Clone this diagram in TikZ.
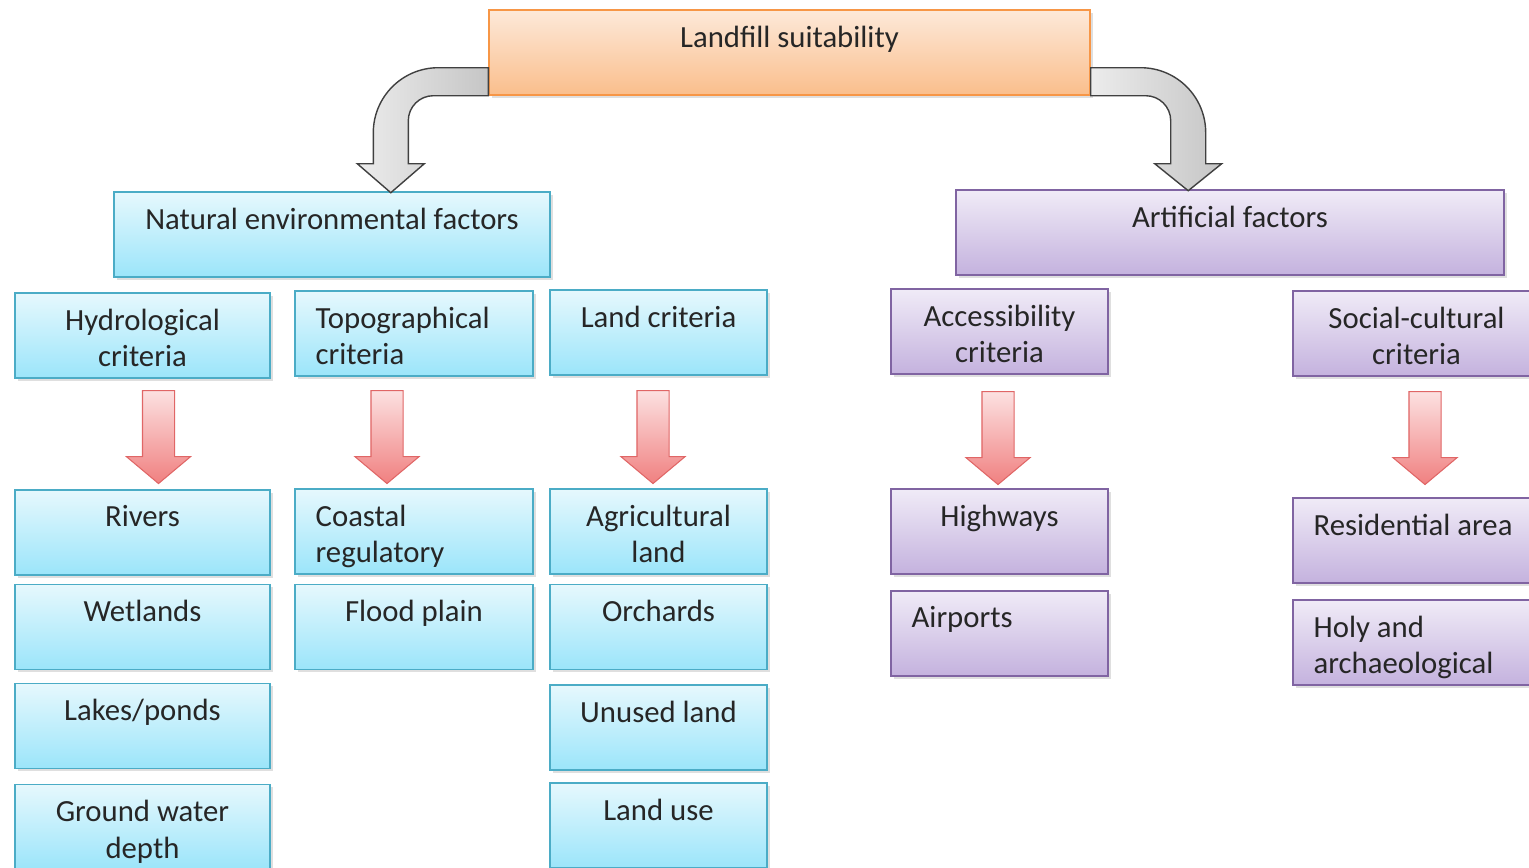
\documentclass[tikz,border=0pt]{standalone}
\usepackage{fontspec}
\setmainfont{Carlito}
\usetikzlibrary{shapes,arrows,positioning,calc,shadows}
\definecolor{boxtext}{RGB}{38,38,38}
\definecolor{suitorange}{RGB}{247,150,70}
\definecolor{suittop}{RGB}{253,233,217}
\definecolor{suitbottom}{RGB}{250,190,140}
\definecolor{natblue}{RGB}{75,172,198}
\definecolor{nattop}{RGB}{230,248,253}
\definecolor{natbottom}{RGB}{155,229,250}
\definecolor{artpurple}{RGB}{128,100,162}
\definecolor{arttop}{RGB}{240,235,247}
\definecolor{artbottom}{RGB}{196,178,222}
\definecolor{flowred}{RGB}{224,102,102}
\definecolor{flowtop}{RGB}{252,225,225}
\definecolor{flowbottom}{RGB}{240,128,128}
\definecolor{bendgray}{RGB}{64,64,64}

\tikzset{
  factorbox/.style={draw, rectangle, line width=0.8pt, minimum height=1.7cm, inner sep=0pt,
    drop shadow={shadow xshift=0.05cm, shadow yshift=-0.05cm, opacity=0.25}},
  natbox/.style={factorbox, draw=natblue, top color=nattop, bottom color=natbottom},
  artbox/.style={factorbox, draw=artpurple, top color=arttop, bottom color=artbottom},
  boxlabel/.style={anchor=north, inner sep=0pt, yshift=-0.32cm, align=center, text=boxtext},
  leftlabel/.style={anchor=north west, inner sep=0pt, xshift=0.42cm, yshift=-0.32cm, align=left, text=boxtext},
  downarrow/.style={single arrow, draw=flowred, line width=0.6pt, rotate=-90, anchor=tail, minimum height=1.86cm,
    inner xsep=0pt, inner ysep=0.31cm, single arrow head extend=0.32cm, single arrow tip angle=100,
    top color=flowtop, bottom color=flowbottom},
  bendarrow/.style={draw=bendgray, line width=0.8pt, left color=gray!15, right color=gray!45}
}

\begin{document}
\begin{tikzpicture}[font=\fontsize{17.5}{21}\selectfont]
    \useasboundingbox (0,0) rectangle (30.58,-17.34);

    \node[factorbox, draw=suitorange, top color=suittop, bottom color=suitbottom, minimum width=12.02cm,
      label={[boxlabel]north:Landfill suitability}] (suit) at (15.79,-1.05) {};

    \node[natbox, minimum width=8.72cm, label={[boxlabel]north:Natural environmental factors}] (natural) at (6.64,-4.69) {};
    \node[artbox, minimum width=10.96cm, label={[boxlabel]north:Artificial factors}] (artificial) at (24.60,-4.65) {};

    \begin{scope}[shift={(suit.south west)}]
      \draw[bendarrow] (0,0.56) -- (-1.0,0.56) arc[start angle=90, end angle=180, radius=1.3]
        -- (-2.30,-1.36) -- (-2.62,-1.36) -- (-1.95,-1.94) -- (-1.28,-1.36) -- (-1.60,-1.36)
        -- (-1.60,-0.5) arc[start angle=180, end angle=90, radius=0.5] -- (0,0) -- cycle;
    \end{scope}
    \begin{scope}[shift={(suit.south east)}, xscale=-1]
      \draw[bendarrow] (0,0.56) -- (-1.0,0.56) arc[start angle=90, end angle=180, radius=1.3]
        -- (-2.30,-1.36) -- (-2.62,-1.36) -- (-1.95,-1.90) -- (-1.28,-1.36) -- (-1.60,-1.36)
        -- (-1.60,-0.5) arc[start angle=180, end angle=90, radius=0.5] -- (0,0) -- cycle;
    \end{scope}

    \node[natbox, minimum width=5.10cm, label={[boxlabel]north:Hydrological\\criteria}] (hydro) at (2.85,-6.71) {};
    \node[natbox, minimum width=4.76cm, label={[leftlabel]north west:Topographical\\criteria}] (topo) at (8.28,-6.67) {};
    \node[natbox, minimum width=4.34cm, label={[boxlabel]north:Land criteria}] (landcrit) at (13.17,-6.65) {};
    \node[artbox, minimum width=4.34cm, label={[boxlabel]north:Accessibility\\criteria}] (access) at (19.99,-6.63) {};
    \node[artbox, minimum width=4.94cm, label={[boxlabel]north:Social-cultural\\criteria}] (social) at (28.33,-6.67) {};

    \node[downarrow] (hydroarrow) at (3.17,-7.80) {};
    \node[downarrow] (topoarrow) at (7.74,-7.80) {};
    \node[downarrow] (landarrow) at (13.06,-7.80) {};
    \node[downarrow] (accessarrow) at (19.96,-7.82) {};
    \node[downarrow] (socialarrow) at (28.50,-7.82) {};

    \node[natbox, minimum width=5.10cm, label={[boxlabel]north:Rivers}] (rivers) at (2.85,-10.65) {};
    \node[natbox, minimum width=5.10cm, label={[boxlabel]north:Wetlands}] (wetlands) at (2.85,-12.54) {};
    \node[natbox, minimum width=5.10cm, label={[boxlabel]north:Lakes/ponds}] (lakes) at (2.85,-14.52) {};
    \node[natbox, minimum width=5.10cm, label={[boxlabel]north:Ground water\\depth}] (groundwater) at (2.85,-16.54) {};

    \node[natbox, minimum width=4.76cm, label={[leftlabel]north west:Coastal\\regulatory}] (coastal) at (8.28,-10.63) {};
    \node[natbox, minimum width=4.76cm, label={[boxlabel]north:Flood plain}] (flood) at (8.28,-12.54) {};

    \node[natbox, minimum width=4.34cm, label={[boxlabel]north:Agricultural\\land}] (agri) at (13.17,-10.63) {};
    \node[natbox, minimum width=4.34cm, label={[boxlabel]north:Orchards}] (orchards) at (13.17,-12.54) {};
    \node[natbox, minimum width=4.34cm, label={[boxlabel]north:Unused land}] (unused) at (13.17,-14.55) {};
    \node[natbox, minimum width=4.34cm, label={[boxlabel]north:Land use}] (landuse) at (13.17,-16.51) {};

    \node[artbox, minimum width=4.34cm, label={[boxlabel]north:Highways}] (highways) at (19.99,-10.63) {};
    \node[artbox, minimum width=4.34cm, label={[leftlabel]north west:Airports}] (airports) at (19.99,-12.67) {};

    \node[artbox, minimum width=4.94cm, label={[leftlabel]north west:Residential area}] (residential) at (28.33,-10.81) {};
    \node[artbox, minimum width=4.94cm, label={[leftlabel]north west:Holy and\\archaeological}] (holy) at (28.33,-12.85) {};
\end{tikzpicture}
\end{document}
